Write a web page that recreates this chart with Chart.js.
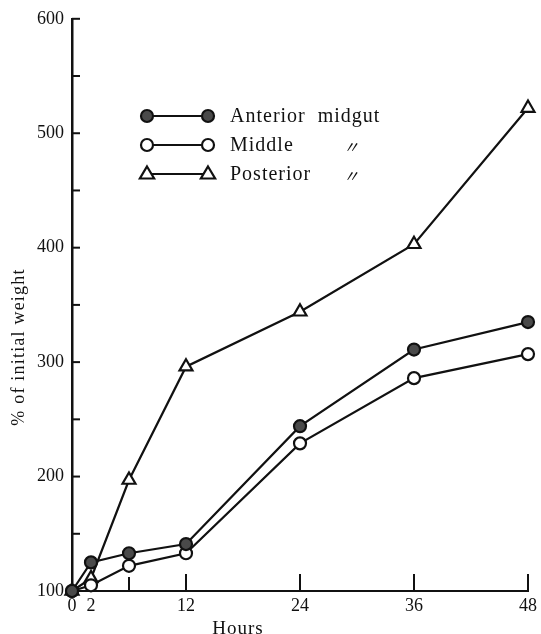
<!DOCTYPE html>
<html>
<head>
<meta charset="utf-8">
<script src="https://cdn.jsdelivr.net/npm/chart.js@4"></script>
<style>
  html, body { margin: 0; padding: 0; background: #fff; }
  #wrap { width: 541px; height: 634px; position: relative; }
</style>
</head>
<body>
<div id="wrap"><canvas id="c" width="541" height="634"></canvas></div>
<script>
const hours = [0, 2, 6, 12, 24, 36, 48];
const xTickLabels = [0, 2, 12, 24, 36, 48];
const xTickMarks = [6, 12, 24, 36, 48];
const anterior = [100, 125, 133, 141, 244, 311, 335];
const middle = [100, 105, 122, 133, 229, 286, 307];
const posterior = [100, 111, 197, 296, 344, 403, 522];
const seriesNames = ['Anterior  midgut', 'Middle', 'Posterior'];
const dittoMarks = ['', '〃', '〃'];
const xTitle = 'Hours';
const yTitle = '% of initial weight';

const SERIF = '"Liberation Serif", "DejaVu Serif", serif';

function pts(vals) { return hours.map((h, i) => ({ x: h, y: vals[i] })); }

const styles = [
  { pointStyle: 'circle', bg: '#4a4a4a', r: 6 },
  { pointStyle: 'circle', bg: '#ffffff', r: 6 },
  { pointStyle: 'triangle', bg: '#ffffff', r: 7.5 }
];

const seriesData = [anterior, middle, posterior];

const datasets = seriesData.map((vals, i) => ({
  label: seriesNames[i],
  data: pts(vals),
  borderColor: '#111',
  borderWidth: 2.2,
  pointStyle: styles[i].pointStyle,
  pointRadius: styles[i].r,
  pointBackgroundColor: styles[i].bg,
  pointBorderColor: '#111',
  pointBorderWidth: 2.2,
  tension: 0,
  clip: false
}));

const decor = {
  id: 'decor',
  afterDraw(chart) {
    const ctx = chart.ctx;
    const xs = chart.scales.x, ys = chart.scales.y;
    const x0 = xs.getPixelForValue(0);
    const yb = ys.getPixelForValue(100);
    ctx.save();
    ctx.strokeStyle = '#111';
    ctx.lineWidth = 2;
    for (let v = 150; v <= 600; v += 50) {
      const y = ys.getPixelForValue(v);
      ctx.beginPath(); ctx.moveTo(x0, y); ctx.lineTo(x0 + 8, y); ctx.stroke();
    }
    xTickMarks.forEach(h => {
      const x = xs.getPixelForValue(h);
      ctx.beginPath(); ctx.moveTo(x, yb); ctx.lineTo(x, yb - (h === 6 ? 14 : 17)); ctx.stroke();
    });

    // legend
    const lx1 = 147, lx2 = 208, tx = 230, dx = 347;
    const rows = [116, 145, 174];
    rows.forEach((y, i) => {
      ctx.strokeStyle = '#111';
      ctx.lineWidth = 2;
      ctx.beginPath(); ctx.moveTo(lx1, y); ctx.lineTo(lx2, y); ctx.stroke();
      [lx1, lx2].forEach(x => {
        ctx.fillStyle = styles[i].bg;
        ctx.strokeStyle = '#111';
        ctx.lineWidth = 2.2;
        ctx.beginPath();
        if (styles[i].pointStyle === 'circle') {
          ctx.arc(x, y, styles[i].r, 0, Math.PI * 2);
        } else {
          const r = styles[i].r;
          ctx.moveTo(x, y - r);
          ctx.lineTo(x + r * 0.95, y + r * 0.6);
          ctx.lineTo(x - r * 0.95, y + r * 0.6);
          ctx.closePath();
        }
        ctx.fill(); ctx.stroke();
      });
      ctx.fillStyle = '#111';
      ctx.font = '20px ' + SERIF;
      ctx.letterSpacing = '1px';
      ctx.textBaseline = 'middle';
      ctx.textAlign = 'left';
      ctx.fillText(seriesNames[i], tx, y + 1);
      if (dittoMarks[i]) {
        ctx.letterSpacing = '0px';
        ctx.font = 'italic 16px "Noto Sans CJK JP", "DejaVu Sans", sans-serif';
        ctx.fillText(dittoMarks[i], dx - 4, y + 2);
      }
    });

    // axis titles
    ctx.fillStyle = '#111';
    ctx.letterSpacing = '1px';
    ctx.font = '19px ' + SERIF;
    ctx.textAlign = 'center';
    ctx.textBaseline = 'alphabetic';
    ctx.fillText(xTitle, 238, 634);

    ctx.save();
    ctx.translate(19, 347);
    ctx.rotate(-Math.PI / 2);
    ctx.font = '18px ' + SERIF;
    ctx.letterSpacing = '1.2px';
    ctx.textBaseline = 'middle';
    ctx.fillText(yTitle, 0, 0);
    ctx.restore();
    ctx.restore();
  }
};

new Chart(document.getElementById('c'), {
  type: 'line',
  data: { datasets },
  options: {
    responsive: false,
    animation: false,
    layout: { padding: { top: 17, right: 9, left: 0, bottom: 0 } },
    plugins: { legend: { display: false }, tooltip: { enabled: false } },
    scales: {
      x: {
        type: 'linear',
        min: 0, max: 48,
        afterBuildTicks: s => { s.ticks = hours.map(v => ({ value: v })); },
        afterFit: s => { s.height = 43; },
        ticks: {
          autoSkip: false,
          maxRotation: 0,
          padding: 4,
          color: '#111',
          font: { family: SERIF, size: 18 },
          callback: v => xTickLabels.includes(v) ? String(v) : ''
        },
        grid: { drawOnChartArea: false, drawTicks: false },
        border: { display: true, color: '#111', width: 2 }
      },
      y: {
        min: 100, max: 600,
        afterFit: s => { s.width = 72; },
        ticks: {
          stepSize: 50,
          padding: 8,
          color: '#111',
          font: { family: SERIF, size: 18 },
          callback: v => (v % 100 === 0 ? String(v) : '')
        },
        grid: { drawOnChartArea: false, drawTicks: false },
        border: { display: true, color: '#111', width: 2.5 }
      }
    }
  },
  plugins: [decor]
});
</script>
</body>
</html>
